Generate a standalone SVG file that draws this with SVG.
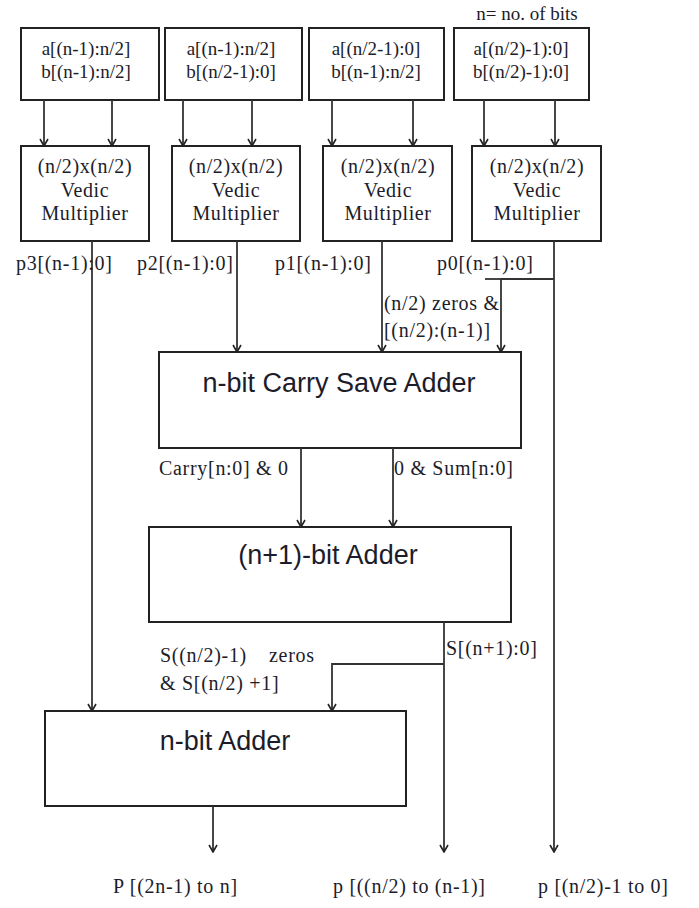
<svg xmlns="http://www.w3.org/2000/svg" width="699" height="908" viewBox="0 0 699 908">
<style>
.box{fill:#fff;stroke:#222;stroke-width:2}
.ln{fill:none;stroke:#333;stroke-width:1.8}
.s{font-family:"Liberation Serif","Times New Roman",serif;font-size:19px;fill:#1c1c2a}
.m{font-family:"Liberation Serif","Times New Roman",serif;font-size:20px;fill:#1c1c2a;letter-spacing:0.6px}
.l{font-family:"Liberation Serif","Times New Roman",serif;font-size:20px;fill:#1c1c2a;letter-spacing:0.7px}
.b{font-family:"Liberation Sans",Arial,sans-serif;font-size:27px;fill:#1c1c2a}
.c{text-anchor:middle}
</style>
<defs>
<marker id="arr" markerWidth="10" markerHeight="10" refX="9" refY="5" orient="auto" markerUnits="userSpaceOnUse" viewBox="0 0 10 10">
<path d="M2,1 L9,5 L2,9" fill="none" stroke="#222" stroke-width="1.6"/>
</marker>
</defs>
<rect width="699" height="908" fill="#fff"/>
<text class="s" x="527" y="20" text-anchor="middle">n= no. of bits</text>

<g id="in1"><rect class="box" x="21" y="28" width="138" height="72"/>
<text class="s c" x="86" y="55">a[(n-1):n/2]</text><text class="s c" x="86" y="78">b[(n-1):n/2]</text></g>
<g id="in2"><rect class="box" x="165" y="28" width="137" height="72"/>
<text class="s c" x="231" y="55">a[(n-1):n/2]</text><text class="s c" x="231" y="78">b[(n/2-1):0]</text></g>
<g id="in3"><rect class="box" x="309" y="28" width="135" height="72"/>
<text class="s c" x="376" y="55">a[(n/2-1):0]</text><text class="s c" x="376" y="78">b[(n-1):n/2]</text></g>
<g id="in4"><rect class="box" x="454" y="28" width="135" height="72"/>
<text class="s c" x="521" y="55">a[(n/2)-1):0]</text><text class="s c" x="521" y="78">b[(n/2)-1):0]</text></g>

<g id="vm1"><rect class="box" x="21" y="146" width="128" height="95"/>
<text class="m c" x="85" y="173">(n/2)x(n/2)</text><text class="m c" x="85" y="197">Vedic</text><text class="m c" x="85" y="220">Multiplier</text></g>
<g id="vm2"><rect class="box" x="172" y="146" width="128" height="95"/>
<text class="m c" x="236" y="173">(n/2)x(n/2)</text><text class="m c" x="236" y="197">Vedic</text><text class="m c" x="236" y="220">Multiplier</text></g>
<g id="vm3"><rect class="box" x="323" y="146" width="129" height="95"/>
<text class="m c" x="388" y="173">(n/2)x(n/2)</text><text class="m c" x="388" y="197">Vedic</text><text class="m c" x="388" y="220">Multiplier</text></g>
<g id="vm4"><rect class="box" x="472" y="146" width="129" height="95"/>
<text class="m c" x="537" y="173">(n/2)x(n/2)</text><text class="m c" x="537" y="197">Vedic</text><text class="m c" x="537" y="220">Multiplier</text></g>

<g id="csa"><rect class="box" x="159" y="352" width="362" height="96"/>
<text class="b c" x="339" y="392">n-bit Carry Save Adder</text></g>
<g id="add1"><rect class="box" x="149" y="527" width="362" height="95"/>
<text class="b c" x="328" y="564">(n+1)-bit Adder</text></g>
<g id="add2"><rect class="box" x="45" y="711" width="361" height="95"/>
<text class="b c" x="225" y="750">n-bit Adder</text></g>

<g id="connectors">
<line class="ln" x1="44" y1="100" x2="44" y2="146" marker-end="url(#arr)"/>
<line class="ln" x1="112" y1="100" x2="112" y2="146" marker-end="url(#arr)"/>
<line class="ln" x1="183" y1="100" x2="183" y2="146" marker-end="url(#arr)"/>
<line class="ln" x1="252" y1="100" x2="252" y2="146" marker-end="url(#arr)"/>
<line class="ln" x1="332" y1="100" x2="332" y2="146" marker-end="url(#arr)"/>
<line class="ln" x1="413" y1="100" x2="413" y2="146" marker-end="url(#arr)"/>
<line class="ln" x1="484" y1="100" x2="484" y2="146" marker-end="url(#arr)"/>
<line class="ln" x1="555" y1="100" x2="555" y2="146" marker-end="url(#arr)"/>
<line class="ln" x1="92" y1="241" x2="92" y2="711" marker-end="url(#arr)"/>
<line class="ln" x1="237" y1="241" x2="237" y2="352" marker-end="url(#arr)"/>
<line class="ln" x1="382" y1="241" x2="382" y2="352" marker-end="url(#arr)"/>
<line class="ln" x1="554" y1="241" x2="554" y2="852" marker-end="url(#arr)"/>
<polyline class="ln" points="554,279 501,279 501,352" marker-end="url(#arr)"/>
<line class="ln" x1="485" y1="279" x2="501" y2="279" stroke="#999"/>
<line class="ln" x1="301" y1="448" x2="301" y2="527" marker-end="url(#arr)"/>
<line class="ln" x1="393" y1="448" x2="393" y2="527" marker-end="url(#arr)"/>
<line class="ln" x1="444" y1="622" x2="444" y2="852" marker-end="url(#arr)"/>
<polyline class="ln" points="444,664 332,664 332,711" marker-end="url(#arr)"/>
<line class="ln" x1="213" y1="806" x2="213" y2="852" marker-end="url(#arr)"/>
</g>

<g id="labels">
<text class="l" x="16" y="270">p3[(n-1):0]</text>
<text class="l" x="137" y="270">p2[(n-1):0]</text>
<text class="l" x="275" y="270">p1[(n-1):0]</text>
<text class="l" x="437" y="270">p0[(n-1):0]</text>
<text class="l" x="384" y="310">(n/2) zeros &amp;</text>
<text class="l" x="384" y="337">[(n/2):(n-1)]</text>
<text class="l" x="159" y="475">Carry[n:0] &amp; 0</text>
<text class="l" x="394" y="475">0 &amp; Sum[n:0]</text>
<text class="l" x="446" y="655">S[(n+1):0]</text>
<text class="l" x="160" y="662">S((n/2)-1)</text>
<text class="l" x="269" y="662">zeros</text>
<text class="l" x="160" y="690">&amp; S[(n/2) +1]</text>
<text class="l" x="113" y="893">P [(2n-1) to n]</text>
<text class="l" x="333" y="893">p [((n/2) to (n-1)]</text>
<text class="l" x="538" y="893">p [(n/2)-1 to 0]</text>
</g>
</svg>
